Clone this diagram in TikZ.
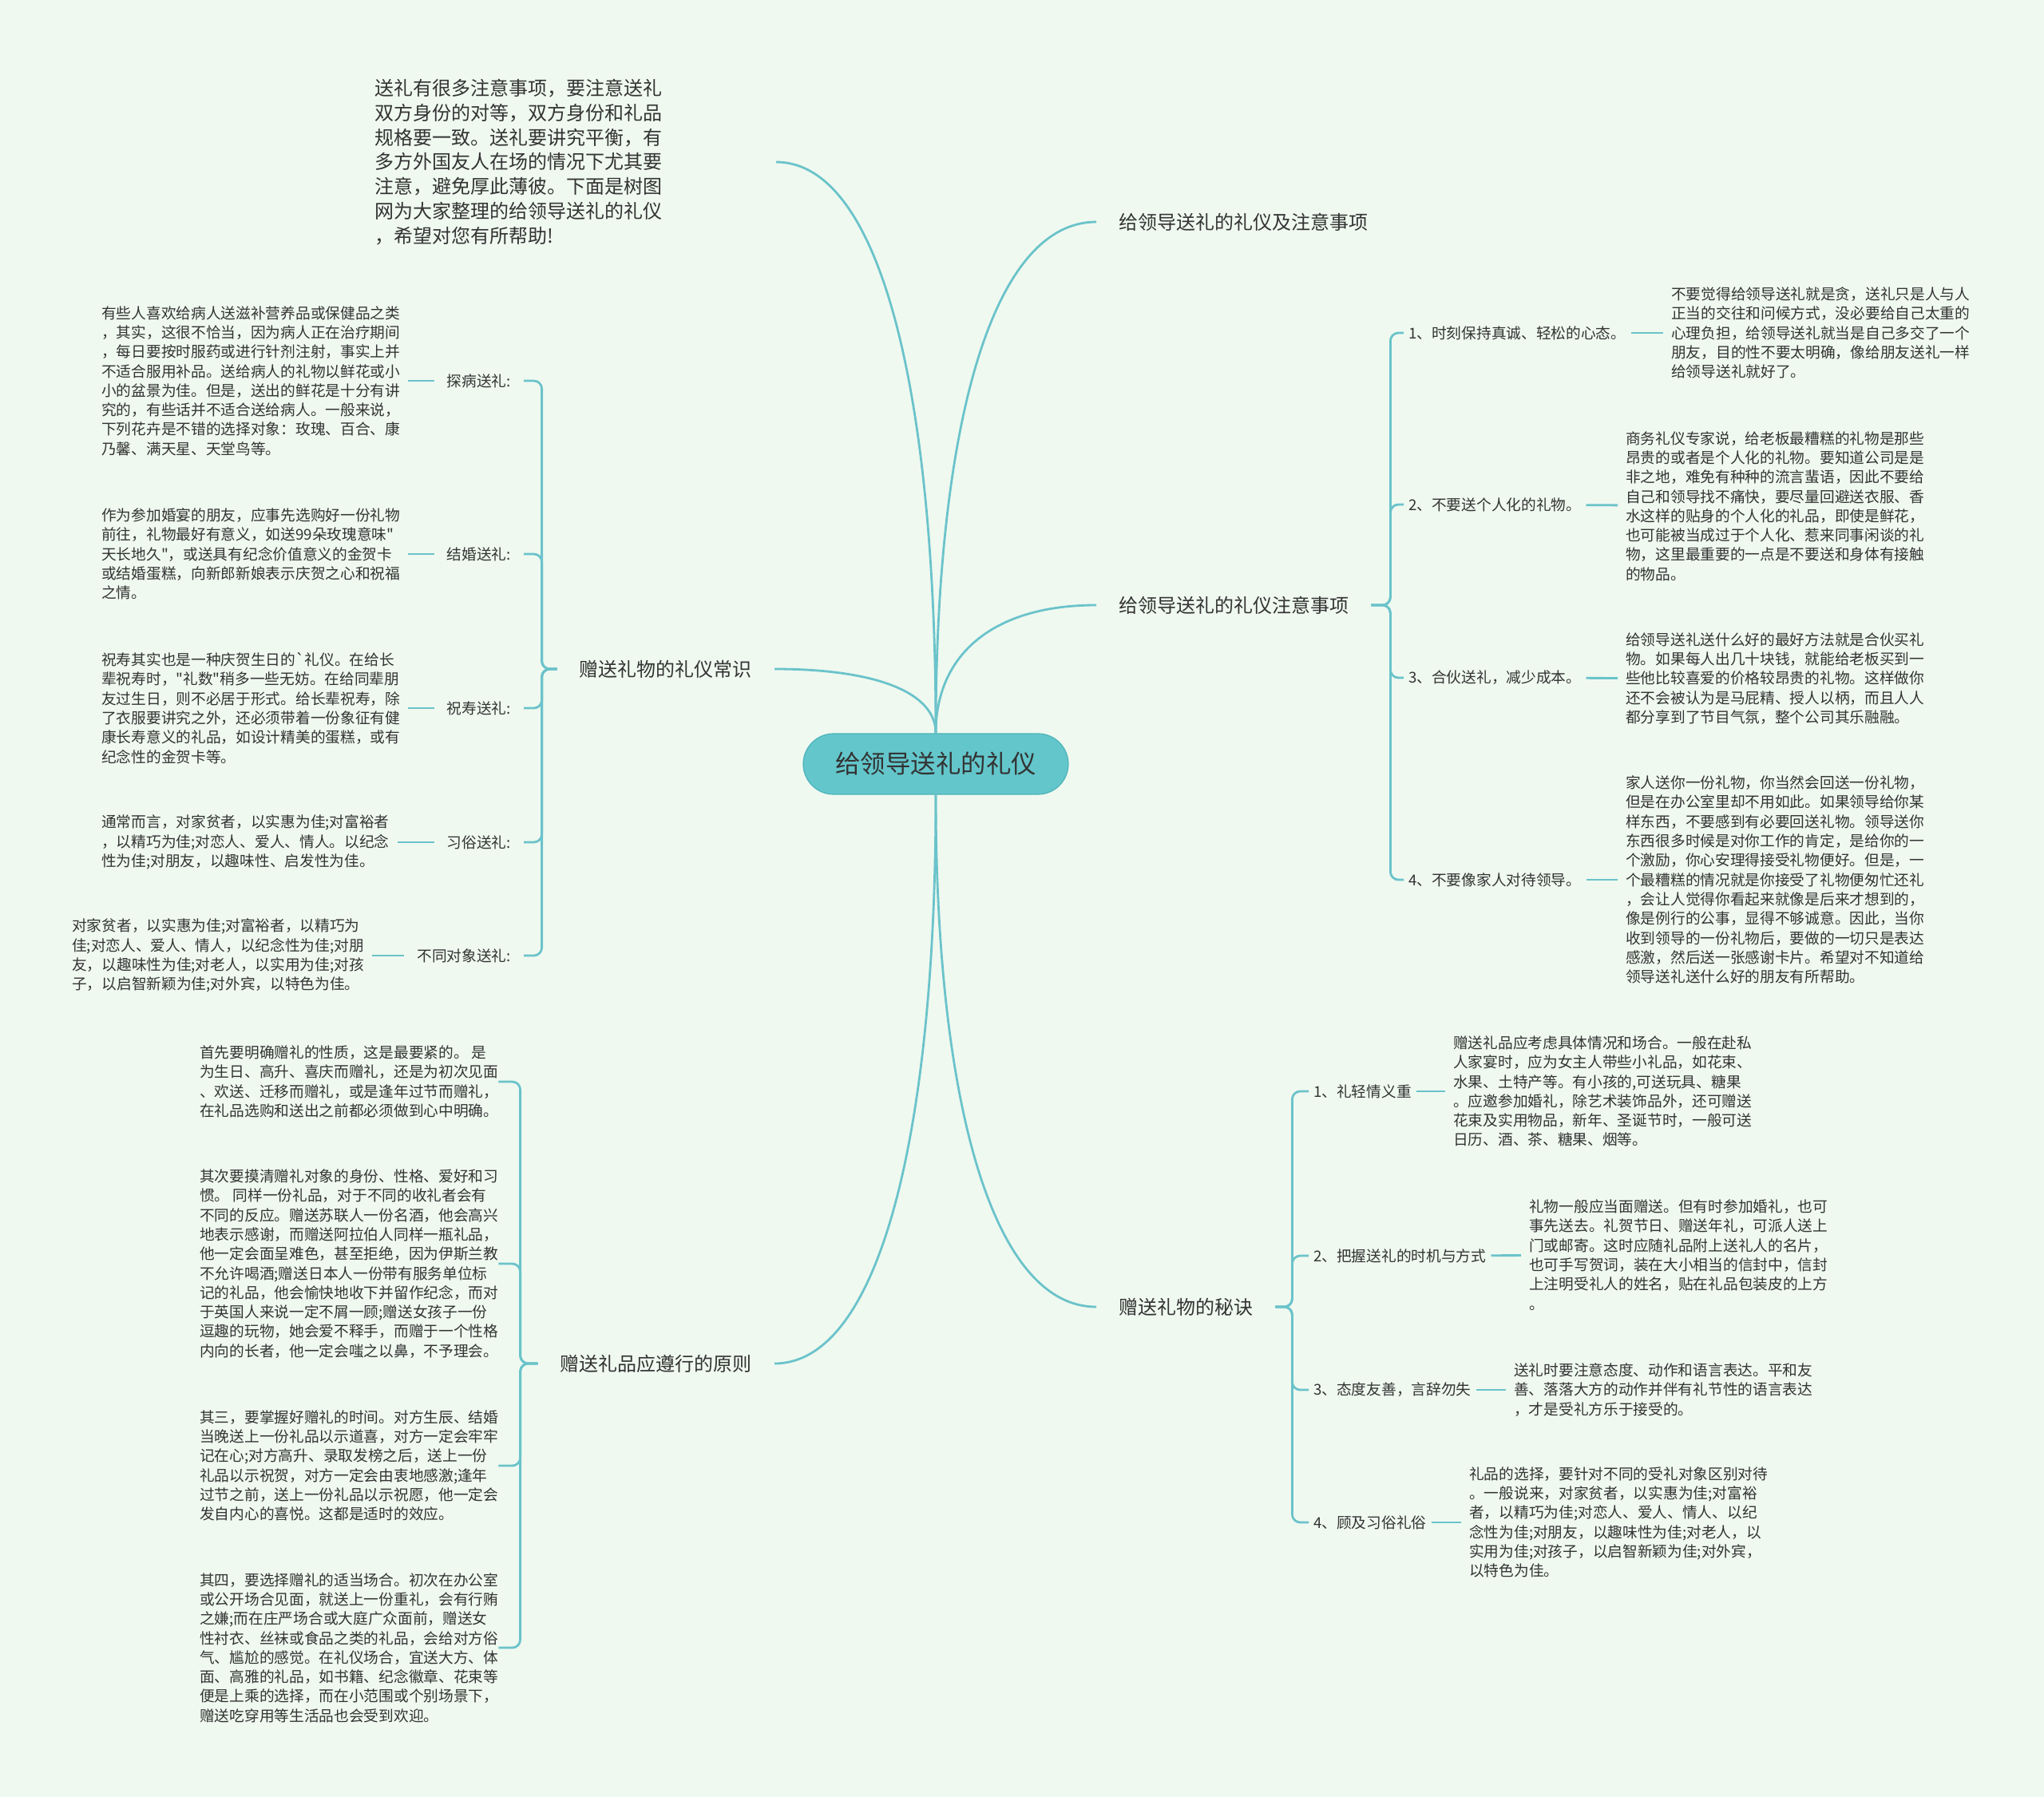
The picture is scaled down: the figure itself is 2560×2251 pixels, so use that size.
\documentclass[tikz,border=0pt]{standalone}
\usepackage{fontspec}
\setmainfont{Noto Sans CJK SC}[Ligatures=TeXOff]
\definecolor{bgc}{HTML}{EFF9F0}
\definecolor{linkc}{HTML}{6BC3CA}
\definecolor{rootc}{HTML}{63C6CB}
\definecolor{rootd}{HTML}{4FB3B9}
\definecolor{ink}{HTML}{333333}

\begin{document}
\begin{tikzpicture}[x=1pt, y=1pt,
    link/.style={draw=linkc, line width=2.8pt},
    bracket/.style={link, rounded corners=10pt},
    rootbox/.style={fill=rootc, draw=rootd, line width=1.2pt, rounded corners=38pt, minimum width=332pt, minimum height=76pt, text=ink, font=\fontsize{31.5}{36}\selectfont},
    branch/.style={text=ink, inner xsep=28pt, font=\fontsize{24}{30.8}\selectfont},
    itemlabel/.style={text=ink, inner xsep=6pt, font=\fontsize{18.7}{24.3}\selectfont},
    litem/.style={itemlabel, anchor=east, inner xsep=16pt},
    notebox/.style={text=ink, inner xsep=10pt, align=left, anchor=west, font=\fontsize{18.7}{24.3}\selectfont}
]
    \fill[bgc] (0,0) rectangle (2560,-2251);
    \useasboundingbox (0,0) rectangle (2560,-2251);

    \node (root) [rootbox] at (1172,-957) {给领导送礼的礼仪};

    % main branches
    \node (etiq) [branch, anchor=west] at (1373,-278) {给领导送礼的礼仪及注意事项};
    \node (tips) [branch, anchor=west] at (1373,-758) {给领导送礼的礼仪注意事项};
    \node (secret) [branch, anchor=west] at (1373,-1637) {赠送礼物的秘诀};
    \node (intro) [branch, anchor=east, inner xsep=0pt, text width=502pt, align=left] at (972,-203) {送礼有很多注意事项，要注意送礼\\双方身份的对等，双方身份和礼品\\规格要一致。送礼要讲究平衡，有\\多方外国友人在场的情况下尤其要\\注意，避免厚此薄彼。下面是树图\\网为大家整理的给领导送礼的礼仪\\，希望对您有所帮助!};
    \node (common) [branch, anchor=east] at (970,-838) {赠送礼物的礼仪常识};
    \node (rules) [branch, anchor=east] at (970,-1708) {赠送礼品应遵行的原则};

    \draw [link] (root.north) .. controls +(0,384) and +(-131,0) .. (etiq.west);
    \draw [link] (root.north) .. controls +(0,98) and +(-130,0) .. (tips.west);
    \draw [link] (root.south) .. controls +(0,-385) and +(-130,0) .. (secret.west);
    \draw [link] (root.north) .. controls +(0,430) and +(130,0) .. (intro.east);
    \draw [link] (root.north) .. controls +(0,50) and +(130,0) .. (common.east);
    \draw [link] (root.south) .. controls +(0,-430) and +(130,0) .. (rules.east);

    % 注意事项
    \node (a1) [itemlabel, anchor=west] at (1758,-417) {1、时刻保持真诚、轻松的心态。};
    \node (a2) [itemlabel, anchor=west] at (1758,-632) {2、不要送个人化的礼物。};
    \node (a3) [itemlabel, anchor=west] at (1758,-849) {3、合伙送礼，减少成本。};
    \node (a4) [itemlabel, anchor=west] at (1758,-1102) {4、不要像家人对待领导。};
    \node (ta1) [notebox] at (2083,-417) {不要觉得给领导送礼就是贪，送礼只是人与人\\正当的交往和问候方式，没必要给自己太重的\\心理负担，给领导送礼就当是自己多交了一个\\朋友，目的性不要太明确，像给朋友送礼一样\\给领导送礼就好了。};
    \node (ta2) [notebox] at (2026,-634) {商务礼仪专家说，给老板最糟糕的礼物是那些\\昂贵的或者是个人化的礼物。要知道公司是是\\非之地，难免有种种的流言蜚语，因此不要给\\自己和领导找不痛快，要尽量回避送衣服、香\\水这样的贴身的个人化的礼品，即使是鲜花，\\也可能被当成过于个人化、惹来同事闲谈的礼\\物，这里最重要的一点是不要送和身体有接触\\的物品。};
    \node (ta3) [notebox] at (2026,-850) {给领导送礼送什么好的最好方法就是合伙买礼\\物。如果每人出几十块钱，就能给老板买到一\\些他比较喜爱的价格较昂贵的礼物。这样做你\\还不会被认为是马屁精、授人以柄，而且人人\\都分享到了节目气氛，整个公司其乐融融。};
    \node (ta4) [notebox] at (2026,-1102) {家人送你一份礼物，你当然会回送一份礼物，\\但是在办公室里却不用如此。如果领导给你某\\样东西，不要感到有必要回送礼物。领导送你\\东西很多时候是对你工作的肯定，是给你的一\\个激励，你心安理得接受礼物便好。但是，一\\个最糟糕的情况就是你接受了礼物便匆忙还礼\\，会让人觉得你看起来就像是后来才想到的，\\像是例行的公事，显得不够诚意。因此，当你\\收到领导的一份礼物后，要做的一切只是表达\\感激，然后送一张感谢卡片。希望对不知道给\\领导送礼送什么好的朋友有所帮助。};

    \draw [bracket] (tips.east) -- ++(24,0) |- (a1.west);
    \draw [bracket] (tips.east) -- ++(24,0) |- (a2.west);
    \draw [bracket] (tips.east) -- ++(24,0) |- (a3.west);
    \draw [bracket] (tips.east) -- ++(24,0) |- (a4.west);
    \draw [link] (a1) -- (ta1);
    \draw [link] (a2) -- (ta2);
    \draw [link] (a3) -- (ta3);
    \draw [link] (a4) -- (ta4);

    % 秘诀
    \node (b1) [itemlabel, anchor=west] at (1639,-1367) {1、礼轻情义重};
    \node (b2) [itemlabel, anchor=west] at (1639,-1573) {2、把握送礼的时机与方式};
    \node (b3) [itemlabel, anchor=west] at (1639,-1741) {3、态度友善，言辞勿失};
    \node (b4) [itemlabel, anchor=west] at (1639,-1907) {4、顾及习俗礼俗};
    \node (tb1) [notebox] at (1810,-1367) {赠送礼品应考虑具体情况和场合。一般在赴私\\人家宴时，应为女主人带些小礼品，如花束、\\水果、土特产等。有小孩的,可送玩具、糖果\\。应邀参加婚礼，除艺术装饰品外，还可赠送\\花束及实用物品，新年、圣诞节时，一般可送\\日历、酒、茶、糖果、烟等。};
    \node (tb2) [notebox] at (1905,-1572) {礼物一般应当面赠送。但有时参加婚礼，也可\\事先送去。礼贺节日、赠送年礼，可派人送上\\门或邮寄。这时应随礼品附上送礼人的名片，\\也可手写贺词，装在大小相当的信封中，信封\\上注明受礼人的姓名，贴在礼品包装皮的上方\\。};
    \node (tb3) [notebox] at (1886,-1741) {送礼时要注意态度、动作和语言表达。平和友\\善、落落大方的动作并伴有礼节性的语言表达\\，才是受礼方乐于接受的。};
    \node (tb4) [notebox] at (1830,-1907) {礼品的选择，要针对不同的受礼对象区别对待\\。一般说来，对家贫者，以实惠为佳;对富裕\\者，以精巧为佳;对恋人、爱人、情人、以纪\\念性为佳;对朋友，以趣味性为佳;对老人，以\\实用为佳;对孩子，以启智新颖为佳;对外宾，\\以特色为佳。};

    \draw [bracket] (secret.east) -- ++(21,0) |- (b1.west);
    \draw [bracket] (secret.east) -- ++(21,0) |- (b2.west);
    \draw [bracket] (secret.east) -- ++(21,0) |- (b3.west);
    \draw [bracket] (secret.east) -- ++(21,0) |- (b4.west);
    \draw [link] (b1) -- (tb1);
    \draw [link] (b2) -- (tb2);
    \draw [link] (b3) -- (tb3);
    \draw [link] (b4) -- (tb4);

    % 礼仪常识
    \node (c1) [litem] at (656,-477) {探病送礼:};
    \node (c2) [litem] at (656,-694) {结婚送礼:};
    \node (c3) [litem] at (656,-887) {祝寿送礼:};
    \node (c4) [litem] at (656,-1055) {习俗送礼:};
    \node (c5) [litem] at (656,-1197) {不同对象送礼:};
    \node (tc1) [notebox] at (117,-477) {有些人喜欢给病人送滋补营养品或保健品之类\\，其实，这很不恰当，因为病人正在治疗期间\\，每日要按时服药或进行针剂注射，事实上并\\不适合服用补品。送给病人的礼物以鲜花或小\\小的盆景为佳。但是，送出的鲜花是十分有讲\\究的，有些话并不适合送给病人。一般来说，\\下列花卉是不错的选择对象：玫瑰、百合、康\\乃馨、满天星、天堂鸟等。};
    \node (tc2) [notebox] at (117,-694) {作为参加婚宴的朋友，应事先选购好一份礼物\\前往，礼物最好有意义，如送99朵玫瑰意味"\\天长地久"，或送具有纪念价值意义的金贺卡\\或结婚蛋糕，向新郎新娘表示庆贺之心和祝福\\之情。};
    \node (tc3) [notebox] at (117,-887) {祝寿其实也是一种庆贺生日的`礼仪。在给长\\辈祝寿时，"礼数"稍多一些无妨。在给同辈朋\\友过生日，则不必居于形式。给长辈祝寿，除\\了衣服要讲究之外，还必须带着一份象征有健\\康长寿意义的礼品，如设计精美的蛋糕，或有\\纪念性的金贺卡等。};
    \node (tc4) [notebox] at (117,-1055) {通常而言，对家贫者，以实惠为佳;对富裕者\\，以精巧为佳;对恋人、爱人、情人。以纪念\\性为佳;对朋友，以趣味性、启发性为佳。};
    \node (tc5) [notebox] at (80,-1197) {对家贫者，以实惠为佳;对富裕者，以精巧为\\佳;对恋人、爱人、情人，以纪念性为佳;对朋\\友，以趣味性为佳;对老人，以实用为佳;对孩\\子，以启智新颖为佳;对外宾，以特色为佳。};

    \draw [bracket] (common.west) -- ++(-19,0) |- (c1.east);
    \draw [bracket] (common.west) -- ++(-19,0) |- (c2.east);
    \draw [bracket] (common.west) -- ++(-19,0) |- (c3.east);
    \draw [bracket] (common.west) -- ++(-19,0) |- (c4.east);
    \draw [bracket] (common.west) -- ++(-19,0) |- (c5.east);
    \draw [link] (c1) -- (tc1);
    \draw [link] (c2) -- (tc2);
    \draw [link] (c3) -- (tc3);
    \draw [link] (c4) -- (tc4);
    \draw [link] (c5) -- (tc5);

    % 遵行的原则
    \node (d1) [notebox, inner xsep=0pt] at (250,-1355) {首先要明确赠礼的性质，这是最要紧的。 是\\为生日、高升、喜庆而赠礼，还是为初次见面\\、欢送、迁移而赠礼，或是逢年过节而赠礼，\\在礼品选购和送出之前都必须做到心中明确。};
    \node (d2) [notebox, inner xsep=0pt] at (250,-1583) {其次要摸清赠礼对象的身份、性格、爱好和习\\惯。 同样一份礼品，对于不同的收礼者会有\\不同的反应。赠送苏联人一份名酒，他会高兴\\地表示感谢，而赠送阿拉伯人同样一瓶礼品，\\他一定会面呈难色，甚至拒绝，因为伊斯兰教\\不允许喝酒;赠送日本人一份带有服务单位标\\记的礼品，他会愉快地收下并留作纪念，而对\\于英国人来说一定不屑一顾;赠送女孩子一份\\逗趣的玩物，她会爱不释手，而赠于一个性格\\内向的长者，他一定会嗤之以鼻，不予理会。};
    \node (d3) [notebox, inner xsep=0pt] at (250,-1836) {其三，要掌握好赠礼的时间。对方生辰、结婚\\当晚送上一份礼品以示道喜，对方一定会牢牢\\记在心;对方高升、录取发榜之后，送上一份\\礼品以示祝贺，对方一定会由衷地感激;逢年\\过节之前，送上一份礼品以示祝愿，他一定会\\发自内心的喜悦。这都是适时的效应。};
    \node (d4) [notebox, inner xsep=0pt] at (250,-2064) {其四，要选择赠礼的适当场合。初次在办公室\\或公开场合见面，就送上一份重礼，会有行贿\\之嫌;而在庄严场合或大庭广众面前，赠送女\\性衬衣、丝袜或食品之类的礼品，会给对方俗\\气、尴尬的感觉。在礼仪场合，宜送大方、体\\面、高雅的礼品，如书籍、纪念徽章、花束等\\便是上乘的选择，而在小范围或个别场景下，\\赠送吃穿用等生活品也会受到欢迎。};

    \draw [bracket] (rules.west) -- ++(-22,0) |- (d1.east);
    \draw [bracket] (rules.west) -- ++(-22,0) |- (d2.east);
    \draw [bracket] (rules.west) -- ++(-22,0) |- (d3.east);
    \draw [bracket] (rules.west) -- ++(-22,0) |- (d4.east);
\end{tikzpicture}
\end{document}
